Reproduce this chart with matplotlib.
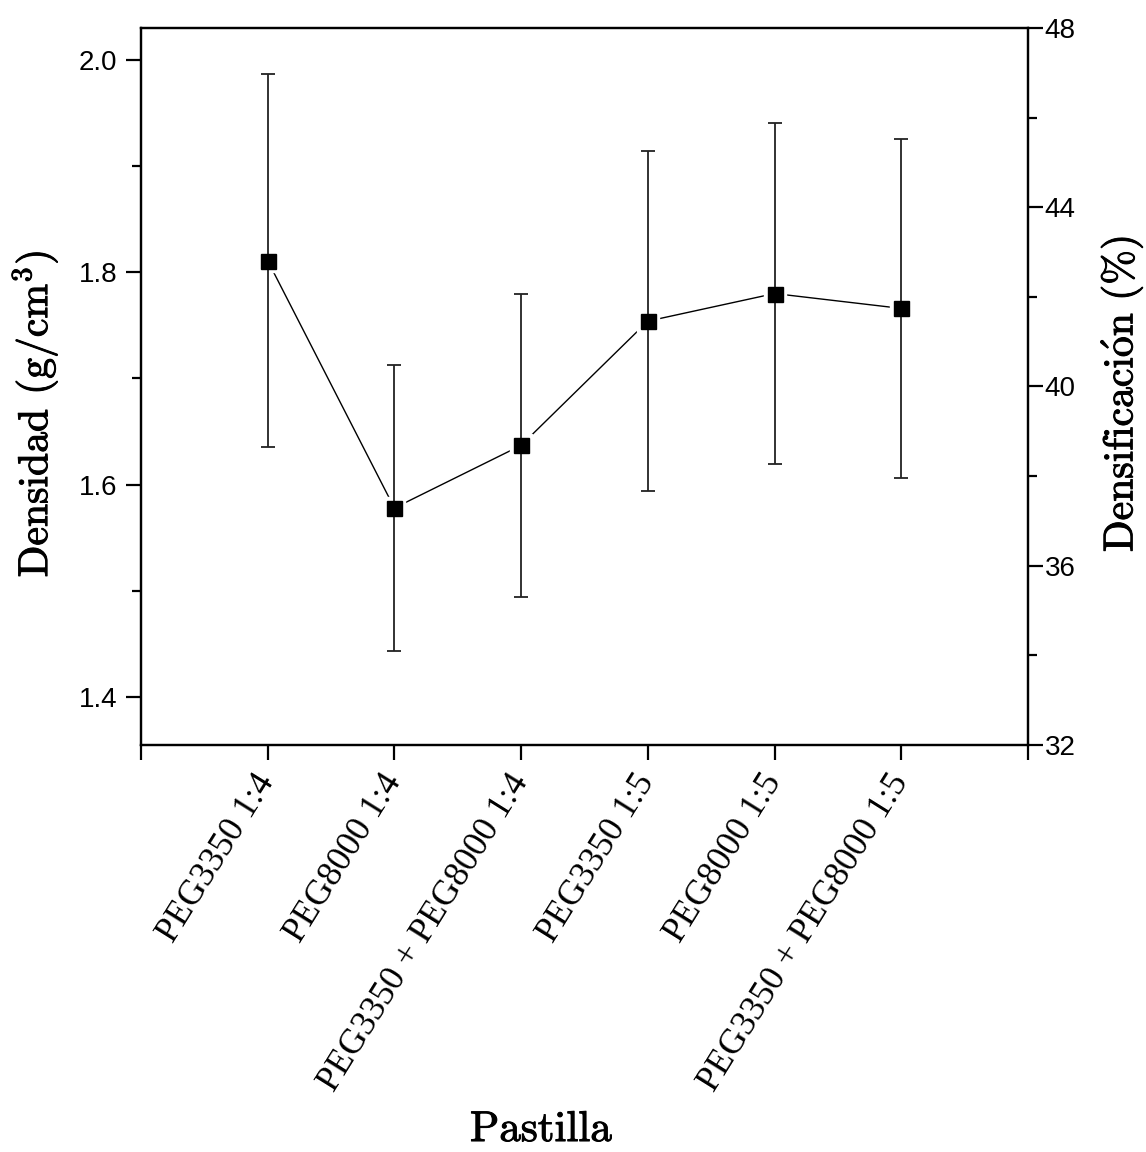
import matplotlib
matplotlib.use("Agg")
import matplotlib.pyplot as plt
import matplotlib.patheffects as pe
import numpy as np

plt.rcParams["mathtext.fontset"] = "cm"

# ---- data ----
categories = ["PEG3350 1:4", "PEG8000 1:4", "PEG3350 + PEG8000 1:4",
              "PEG3350 1:5", "PEG8000 1:5", "PEG3350 + PEG8000 1:5"]
density = [1.811, 1.578, 1.637, 1.754, 1.780, 1.766]
density_err = [0.176, 0.135, 0.143, 0.160, 0.161, 0.160]
left_ticks = [1.4, 1.6, 1.8, 2.0]
right_ticks = [32, 36, 40, 44, 48]

fig = plt.figure(figsize=(11.46, 11.52), dpi=100)
ax = fig.add_axes([0.123, 0.3533, 0.774, 0.6224])

x = np.arange(len(categories))

# connecting line with small gaps near markers
ax.plot(x, density, color="black", lw=1.0, zorder=2)
ax.plot(x, density, linestyle="none", marker="s", ms=15.5, mfc="white",
        mec="white", zorder=2.5)
ax.errorbar(x, density, yerr=density_err, fmt="none", ecolor="#222222",
            elinewidth=1.3, capsize=5, capthick=1.3, zorder=3)
ax.plot(x, density, linestyle="none", marker="s", ms=10.8, mfc="black",
        mec="black", zorder=4)

ax.set_xlim(-1, 6)
ax.set_ylim(1.3548, 2.0301)

ax.set_xticks(np.arange(-1, 7))
ax.set_xticklabels([""] + categories + [""], rotation=58, ha="right",
                   va="center", rotation_mode="anchor",
                   fontfamily="Liberation Serif", fontsize=25.5)
ax.tick_params(axis="x", pad=12)

ax.set_yticks(left_ticks)
ax.set_yticks([1.5, 1.7, 1.9], minor=True)
ax.set_yticklabels([f"{v:.1f}" for v in left_ticks],
                   fontfamily="Liberation Sans", fontsize=20)

for side in ["left", "right", "top", "bottom"]:
    ax.spines[side].set_linewidth(1.6)

ax.tick_params(axis="both", which="major", direction="out", length=11,
               width=1.6, right=False, top=False)
ax.tick_params(axis="y", which="minor", direction="out", length=6.5,
               width=1.6, right=False)
ax.tick_params(axis="y", which="major", pad=6)

stroke = [pe.withStroke(linewidth=0.7, foreground="black")]

ax.set_ylabel(r"Densidad (g/cm$^3$)", fontfamily="cmr10", fontsize=30,
              path_effects=stroke)
ax.yaxis.set_label_coords(-0.120, 0.4616)
ax.yaxis.label.set_va("center")

ax.set_xlabel("Pastilla", fontfamily="cmr10", fontsize=31,
              path_effects=stroke)
ax.xaxis.set_label_coords(0.451, -0.5635)
ax.xaxis.label.set_va("bottom")

ax2 = ax.twinx()
ax2.set_ylim(32, 48)
ax2.set_yticks(right_ticks)
ax2.set_yticks([34, 38, 42, 46], minor=True)
ax2.set_yticklabels([str(v) for v in right_ticks],
                    fontfamily="Liberation Sans", fontsize=20)
ax2.tick_params(axis="y", which="major", direction="out", length=11,
                width=1.6, pad=1)
ax2.tick_params(axis="y", which="minor", direction="out", length=6.5,
                width=1.6)
for side in ["left", "right", "top", "bottom"]:
    ax2.spines[side].set_linewidth(1.6)
ax2.set_ylabel(r"$\mathrm{Densificaci\acute{o}n\ (\%)}$", fontsize=30,
               path_effects=stroke)
ax2.yaxis.set_label_coords(1.106, 0.4895)
ax2.yaxis.label.set_va("center")

fig.savefig("out.png", dpi=100)
